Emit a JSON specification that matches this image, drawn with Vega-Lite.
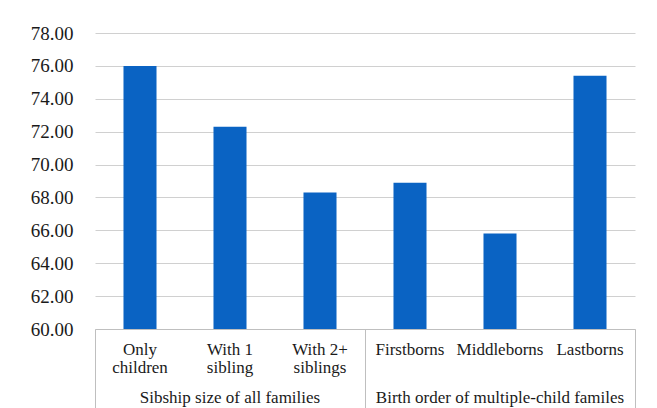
{
  "$schema": "https://vega.github.io/schema/vega-lite/v6.json",
  "width": 540,
  "height": 296,
  "autosize": {"type": "none"},
  "padding": {"left": 95, "top": 33, "right": 22, "bottom": 79},
  "background": "white",
  "config": {
    "view": {"stroke": null},
    "font": "Liberation Serif",
    "axis": {"labelFont": "Liberation Serif", "labelColor": "#1a1a1a", "titleFont": "Liberation Serif"}
  },
  "data": {
    "values": [
      {"category": "Only children", "group": "Sibship size of all families", "value": 76.0},
      {"category": "With 1 sibling", "group": "Sibship size of all families", "value": 72.3},
      {"category": "With 2+ siblings", "group": "Sibship size of all families", "value": 68.3},
      {"category": "Firstborns", "group": "Birth order of multiple-child familes", "value": 68.9},
      {"category": "Middleborns", "group": "Birth order of multiple-child familes", "value": 65.8},
      {"category": "Lastborns", "group": "Birth order of multiple-child familes", "value": 75.4}
    ]
  },
  "encoding": {
    "y": {
      "field": "value", "type": "quantitative",
      "scale": {"domain": [60, 78], "nice": false, "zero": false},
      "axis": {
        "title": null, "values": [60, 62, 64, 66, 68, 70, 72, 74, 76, 78],
        "format": ".2f", "ticks": false, "domain": false,
        "grid": true, "gridColor": "#D0D0D0", "gridWidth": 1,
        "labelFont": "Liberation Serif", "labelFontSize": 19, "labelPadding": 22, "labelOverlap": false
      }
    }
  },
  "resolve": {"axis": {"x": "independent"}},
  "layer": [
    {
      "mark": {"type": "bar", "color": "#0A63C3", "width": {"band": 0.367}, "clip": true},
      "encoding": {
        "x": {
          "field": "category", "type": "nominal", "sort": null,
          "scale": {"paddingInner": 0, "paddingOuter": 0},
          "axis": {
            "orient": "bottom", "title": null, "ticks": false,
            "domain": true, "domainColor": "#BFBFBF", "domainWidth": 1,
            "labelFont": "Liberation Serif",
            "labelAngle": 0, "labelFontSize": 17, "labelPadding": 12,
            "labelLineHeight": 18, "labelOverlap": false, "labelBaseline": "top",
            "labelExpr": "datum.value == 'Only children' ? ['Only', 'children'] : datum.value == 'With 1 sibling' ? ['With 1', 'sibling'] : datum.value == 'With 2+ siblings' ? ['With 2+', 'siblings'] : datum.label"
          }
        }
      }
    },
    {
      "mark": {"type": "bar", "opacity": 0, "clip": true},
      "encoding": {
        "x": {
          "field": "category", "type": "nominal", "sort": null,
          "axis": {
            "orient": "bottom", "title": null, "domain": false,
            "values": ["Only children", "Firstborns"], "bandPosition": 0,
            "ticks": true, "tickSize": 85, "tickColor": "#BFBFBF", "tickWidth": 1,
            "labelFont": "Liberation Serif",
            "labelAngle": 0, "labelFontSize": 17, "labelOffset": 90, "labelLimit": 400,
            "labelPadding": -25, "labelOverlap": false, "labelBaseline": "top", "labelAlign": "center",
            "labelExpr": "datum.value == 'Only children' ? 'Sibship size of all families' : 'Birth order of multiple-child familes'"
          }
        }
      }
    },
    {
      "mark": {"type": "bar", "opacity": 0, "clip": true},
      "encoding": {
        "x": {
          "field": "category", "type": "nominal", "sort": null,
          "axis": {
            "orient": "bottom", "title": null, "domain": false, "labels": false,
            "values": ["Lastborns"], "bandPosition": 1,
            "ticks": true, "tickSize": 85, "tickColor": "#BFBFBF", "tickWidth": 1
          }
        }
      }
    }
  ]
}
